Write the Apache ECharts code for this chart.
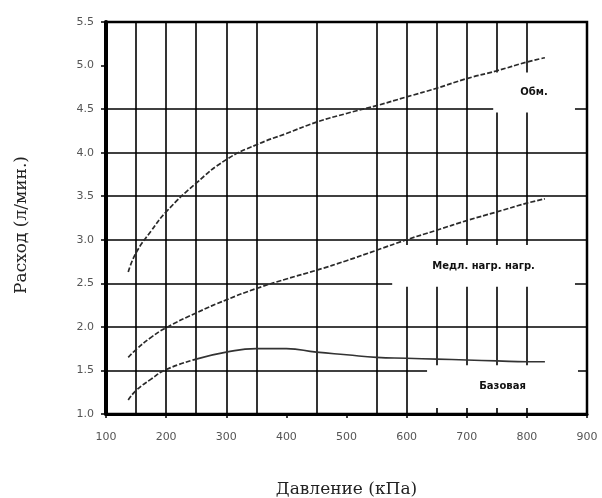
<!DOCTYPE html>
<html>
<head>
<meta charset="utf-8">
<script src="https://cdn.jsdelivr.net/npm/echarts@6/dist/echarts.min.js"></script>
<style>
  html, body { margin: 0; padding: 0; background: #fff; }
  #main { width: 602px; height: 498px; }
</style>
</head>
<body>
<div id="main"></div>
<script>
// давление, кПа
var pressure = [137, 150, 175, 200, 250, 300, 350, 400, 450, 500, 550, 600, 650, 700, 750, 800, 830];
// расход, л/мин
var obmFlow  = [2.63, 2.85, 3.10, 3.32, 3.65, 3.92, 4.09, 4.22, 4.35, 4.45, 4.54, 4.64, 4.74, 4.85, 4.94, 5.04, 5.09];
var medlFlow = [1.65, 1.74, 1.88, 1.99, 2.16, 2.31, 2.44, 2.55, 2.65, 2.76, 2.88, 3.00, 3.11, 3.22, 3.32, 3.42, 3.47];
var baseFlow = [1.16, 1.27, 1.40, 1.51, 1.63, 1.71, 1.75, 1.75, 1.71, 1.68, 1.65, 1.64, 1.63, 1.62, 1.61, 1.60, 1.60];
var baseDashEnd = 4; // до 250 кПа кривая пунктиром

// линии сетки (как на исходном графике)
var gridX = [150, 200, 250, 300, 350, 450, 550, 600, 650, 700, 750, 800];
var gridY = [1.5, 2.0, 2.5, 3.0, 3.5, 4.0, 4.5];

// подписи кривых: [текст, p1, p2, q1, q2]
var curveLabels = [
    ['Обм.', 744, 880, 4.46, 4.92],
    ['Медл. нагр. нагр.', 576, 880, 2.46, 2.94],
    ['Базовая', 634, 885, 1.07, 1.56]
];

function pairs(xs, ys, from, to) {
    var out = [];
    for (var i = from; i <= to; i++) out.push([xs[i], ys[i]]);
    return out;
}

var dom = document.getElementById('main');
var myChart = echarts.init(dom);

var curveStyle = { color: '#2a2a2a', width: 1.7, type: [5, 2] };

option = {
    animation: false,
    backgroundColor: '#fff',
    grid: {
        left: 106, top: 22, width: 481, height: 392,
        outerBoundsMode: 'none', containLabel: false,
        show: true, borderColor: '#000', borderWidth: 2.5
    },
    xAxis: {
        type: 'value', min: 100, max: 900, interval: 100,
        name: 'Давление (кПа)', nameLocation: 'middle', nameGap: 67,
        nameTextStyle: { fontFamily: 'DejaVu Serif', fontSize: 17, color: '#222' },
        axisLine: { show: true, lineStyle: { color: '#000', width: 3 } },
        axisTick: { show: true, length: 4, lineStyle: { color: '#000', width: 1.5 } },
        axisLabel: { margin: 18, fontFamily: 'DejaVu Sans', fontSize: 11, color: '#555' },
        splitLine: { show: false }
    },
    yAxis: {
        type: 'value', min: 1.0, max: 5.5, interval: 0.5,
        name: 'Расход (л/мин.)', nameLocation: 'middle', nameGap: 76, nameRotate: 90,
        nameTextStyle: {
            fontFamily: 'DejaVu Serif', fontSize: 17, color: '#222',
            padding: [0, 14, 0, 0]
        },
        axisLine: { show: true, lineStyle: { color: '#000', width: 4 } },
        axisTick: { show: true, length: 5, lineStyle: { color: '#000', width: 1.5 } },
        axisLabel: {
            margin: 12, fontFamily: 'DejaVu Sans', fontSize: 11, color: '#555',
            formatter: function (v) { return v.toFixed(1); }
        },
        splitLine: { show: false }
    },
    series: [
        {
            name: 'сетка', type: 'line', data: [], silent: true,
            markLine: {
                silent: true, symbol: 'none', z: 1, animation: false,
                label: { show: false },
                lineStyle: { color: '#000', width: 1.6, type: 'solid' },
                data: gridX.map(function (v) { return { xAxis: v }; })
                    .concat(gridY.map(function (v) { return { yAxis: v }; }))
            }
        },
        {
            name: 'подписи', type: 'line', data: [], silent: true,
            markArea: {
                silent: true, z: 3, animation: false,
                itemStyle: { color: '#fff', opacity: 1 },
                label: {
                    show: true, position: 'inside', color: '#111',
                    fontFamily: 'DejaVu Sans', fontWeight: 'bold', fontSize: 10
                },
                data: curveLabels.map(function (l) {
                    return [{ name: l[0], xAxis: l[1], yAxis: l[3] }, { xAxis: l[2], yAxis: l[4] }];
                })
            }
        },
        {
            name: 'Обм.', type: 'line', z: 10, smooth: true, showSymbol: false,
            data: pairs(pressure, obmFlow, 0, pressure.length - 1),
            lineStyle: curveStyle
        },
        {
            name: 'Медл. нагр. нагр.', type: 'line', z: 10, smooth: true, showSymbol: false,
            data: pairs(pressure, medlFlow, 0, pressure.length - 1),
            lineStyle: curveStyle
        },
        {
            name: 'Базовая', type: 'line', z: 10, smooth: true, showSymbol: false,
            data: pairs(pressure, baseFlow, 0, baseDashEnd),
            lineStyle: curveStyle
        },
        {
            name: 'Базовая ', type: 'line', z: 10, smooth: true, showSymbol: false,
            data: pairs(pressure, baseFlow, baseDashEnd, pressure.length - 1),
            lineStyle: { color: '#333', width: 1.6, type: 'solid' }
        }
    ]
};

if (option && typeof option === "object") {
    myChart.setOption(option, true);
}
</script>
</body>
</html>
